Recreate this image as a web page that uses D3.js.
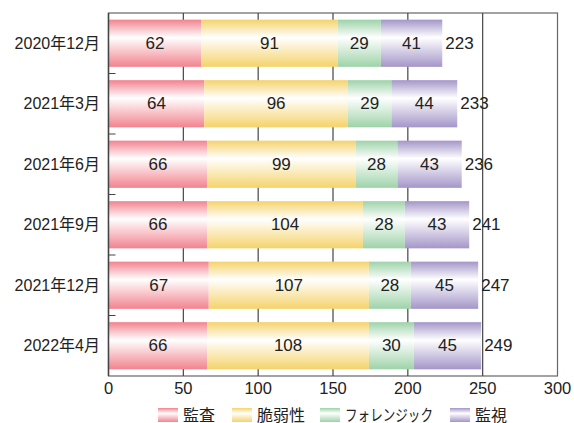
<!DOCTYPE html>
<html><head><meta charset="utf-8">
<script src="https://cdn.jsdelivr.net/npm/d3@7"></script>
<style>body{margin:0;background:#fff;} text{font-family:"Liberation Sans","Noto Sans CJK JP",sans-serif;fill:#222;}</style>
</head><body>
<svg id="c" width="574" height="423"></svg>
<script>
const categories = ["2020年12月","2021年3月","2021年6月","2021年9月","2021年12月","2022年4月"];
const seriesNames = ["監査","脆弱性","フォレンジック","監視"];
const audit = [62,64,66,66,67,66];
const vuln = [91,96,99,104,107,108];
const forensic = [29,29,28,28,28,30];
const monitor = [41,44,43,43,45,45];
const totals = [223,233,236,241,247,249];
const xTicks = [0,50,100,150,200,250,300];
const colors = ["#f2838f","#f4d36c","#9ed3a9","#a496c8"];

const svg = d3.select("#c");
const m = {l:108.5, r:557.5, t:13, b:376};
const x = d3.scaleLinear().domain([0,300]).range([m.l, m.r]);
const y = d3.scaleBand().domain(categories).range([m.t, m.b]).paddingInner(0.22).paddingOuter(0.11);

const defs = svg.append("defs");
colors.forEach((c,i)=>{
  const g = defs.append("linearGradient").attr("id","g"+i).attr("x1",0).attr("y1",0).attr("x2",0).attr("y2",1);
  g.append("stop").attr("offset","0%").attr("stop-color",c);
  g.append("stop").attr("offset","38%").attr("stop-color","#ffffff");
  g.append("stop").attr("offset","100%").attr("stop-color",c);
});

// frame
svg.append("rect").attr("x",m.l).attr("y",m.t).attr("width",m.r-m.l).attr("height",m.b-m.t)
  .attr("fill","none").attr("stroke","#666").attr("stroke-width",1.2);

// gridlines
svg.append("g").selectAll("line").data(xTicks.slice(1,-1)).join("line")
  .attr("x1",d=>x(d)).attr("x2",d=>x(d)).attr("y1",m.t).attr("y2",m.b)
  .attr("stroke","#444").attr("stroke-width",1.2);

const series = [audit, vuln, forensic, monitor];
const stackData = categories.map((c,i)=>{const o={cat:c}; seriesNames.forEach((s,j)=>o[s]=series[j][i]); return o;});
const stacked = d3.stack().keys(seriesNames)(stackData);

stacked.forEach((layer,j)=>{
  const g = svg.append("g");
  g.selectAll("rect").data(layer).join("rect")
    .attr("x",d=>x(d[0])).attr("width",d=>x(d[1])-x(d[0]))
    .attr("y",d=>y(d.data.cat)).attr("height",y.bandwidth())
    .attr("fill","url(#g"+j+")");
  g.selectAll("text").data(layer).join("text")
    .attr("x",d=>(x(d[0])+x(d[1]))/2).attr("y",d=>y(d.data.cat)+y.bandwidth()/2)
    .attr("text-anchor","middle").attr("dominant-baseline","central")
    .attr("font-size",17).text(d=>d[1]-d[0]);
});

// totals
svg.append("g").selectAll("text").data(categories).join("text")
  .attr("x",(d,i)=>x(totals[i])+3).attr("y",d=>y(d)+y.bandwidth()/2)
  .attr("dominant-baseline","central").attr("font-size",17).text((d,i)=>totals[i]);

// left axis line
svg.append("line").attr("x1",m.l).attr("x2",m.l).attr("y1",m.t).attr("y2",m.b).attr("stroke","#444").attr("stroke-width",1.5);
// category boundary ticks (inward)
const step = y.step();
svg.append("g").selectAll("line").data(categories.slice(1)).join("line")
  .attr("x1",m.l).attr("x2",m.l+7)
  .attr("y1",d=>y(d)-step*0.11).attr("y2",d=>y(d)-step*0.11)
  .attr("stroke","#444").attr("stroke-width",1);

// category labels
svg.append("g").selectAll("text").data(categories).join("text")
  .attr("x",100).attr("y",d=>y(d)+y.bandwidth()/2)
  .attr("text-anchor","end").attr("dominant-baseline","central")
  .attr("font-size",16).text(d=>d);

// x axis labels
svg.append("g").selectAll("text").data(xTicks).join("text")
  .attr("x",d=>x(d)).attr("y",388).attr("text-anchor","middle").attr("dominant-baseline","central")
  .attr("font-size",16.5).text(d=>d);

// legend
const legX = [158,232,320,450];
const leg = svg.append("g");
seriesNames.forEach((s,i)=>{
  leg.append("rect").attr("x",legX[i]).attr("y",408).attr("width",20).attr("height",14).attr("fill","url(#g"+i+")");
  const t = leg.append("text").attr("x",legX[i]+25).attr("y",415).attr("dominant-baseline","central").attr("font-size",16).text(s);
  if (s.length > 4) t.attr("textLength",88).attr("lengthAdjust","spacingAndGlyphs");
});
</script>
</body></html>
